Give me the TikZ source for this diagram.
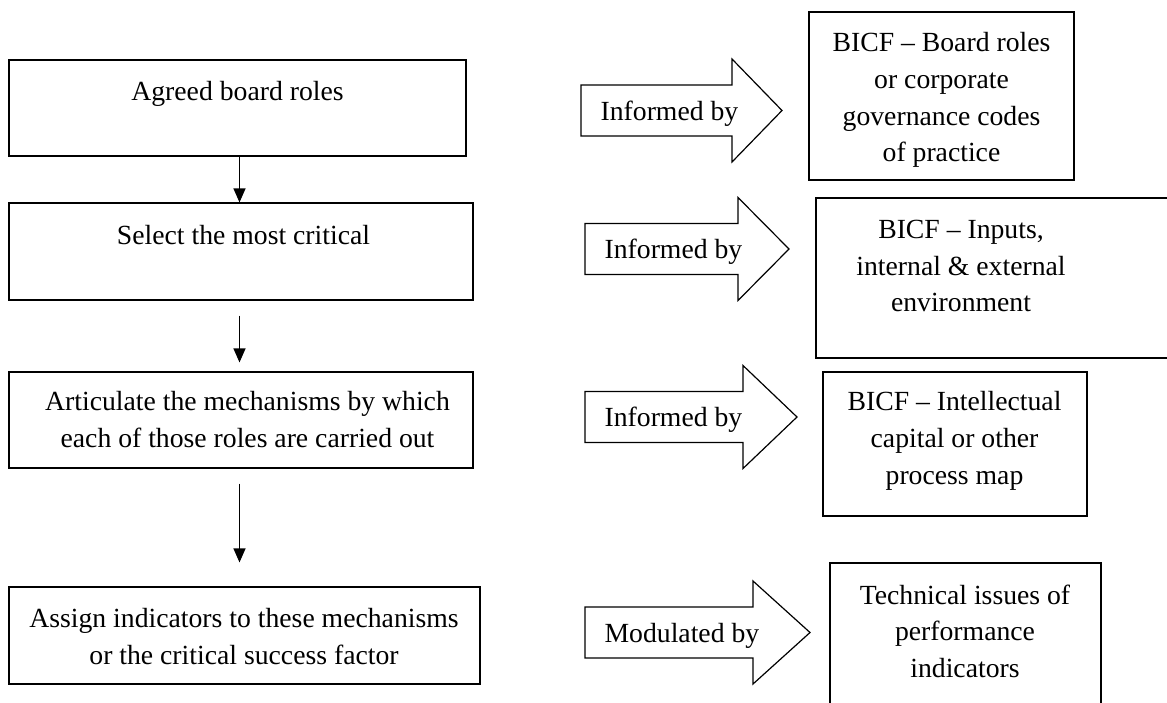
\documentclass[tikz,border=0pt]{standalone}
\usepackage{fontspec}
\setmainfont{Liberation Serif}
\usetikzlibrary{arrows.meta,calc}
\begin{document}
\begin{tikzpicture}[x=1pt, y=-1pt, line width=1.2pt, line join=miter,
	font=\fontsize{27.7}{36.6}\selectfont,
	frame/.style={draw, inner sep=0pt},
	txt/.style={inner sep=0pt, align=center},
	flow/.style={-{Triangle[length=14pt,width=12pt]}}]
	\useasboundingbox (0,0) rectangle (1167,702);
	% steps on the left
	\foreach \n/\x/\y/\w/\h in {1/237.5/108/457/96, 2/241/251.5/464/97, 3/241/420/464/96, 4/244.5/635.5/471/97}
		\node[frame, minimum width=\w pt, minimum height=\h pt] (b\n) at (\x,\y) {};
	\node[txt, anchor=base] (t1) at (237.5,100) {Agreed board roles};
	\node[txt, anchor=base] (t2) at (243.5,244) {Select the most critical};
	\node[txt, anchor=north] (t3) at (247.5,391) {Articulate the mechanisms by which\\each of those roles are carried out};
	\node[txt, anchor=north] (t4) at (244,608) {Assign indicators to these mechanisms\\or the critical success factor};
	% sources on the right
	\foreach \n/\x/\y/\w/\h in {1/941.5/96/265/168, 2/998/278/364/160, 3/955/444/264/144, 4/965.5/641.5/271/157}
		\node[frame, minimum width=\w pt, minimum height=\h pt] (r\n) at (\x,\y) {};
	\node[txt, anchor=north] (s1) at (941.5,32) {BICF -- Board roles\\or corporate\\governance codes\\of practice};
	\node[txt, anchor=north] (s2) at (961,219.5) {BICF -- Inputs,\\internal \& external\\environment};
	\node[txt, anchor=north] (s3) at (954.5,391) {BICF -- Intellectual\\capital or other\\process map};
	\node[txt, anchor=north] (s4) at (965,584) {Technical issues of\\performance\\indicators};
	% block arrows
	\foreach \n/\t/\yc/\hb/\tp/\lbl in {1/581/110.5/732/782/Informed by, 2/585/249/738/789/Informed by, 3/585/417/743/797/Informed by, 4/585/632.5/753/810/Modulated by}{
		\draw (\t,\yc-25.5) -- (\hb,\yc-25.5) -- (\hb,\yc-51.5) -- (\tp,\yc) -- (\hb,\yc+51.5) -- (\hb,\yc+25.5) -- (\t,\yc+25.5) -- cycle;
		\node[txt, anchor=base west] (i\n) at (\t+19,\yc+9.5) {\lbl};
	}
	% down arrows
	\coordinate (spine) at (239.5,0);
	\draw[flow] (b1.south -| spine) -- (b2.north -| spine);
	\draw[flow] ($(b2.south -| spine)+(0,15)$) -- ($(b3.north -| spine)+(0,-9)$);
	\draw[flow] ($(b3.south -| spine)+(0,15)$) -- ($(b4.north -| spine)+(0,-24)$);
\end{tikzpicture}
\end{document}
